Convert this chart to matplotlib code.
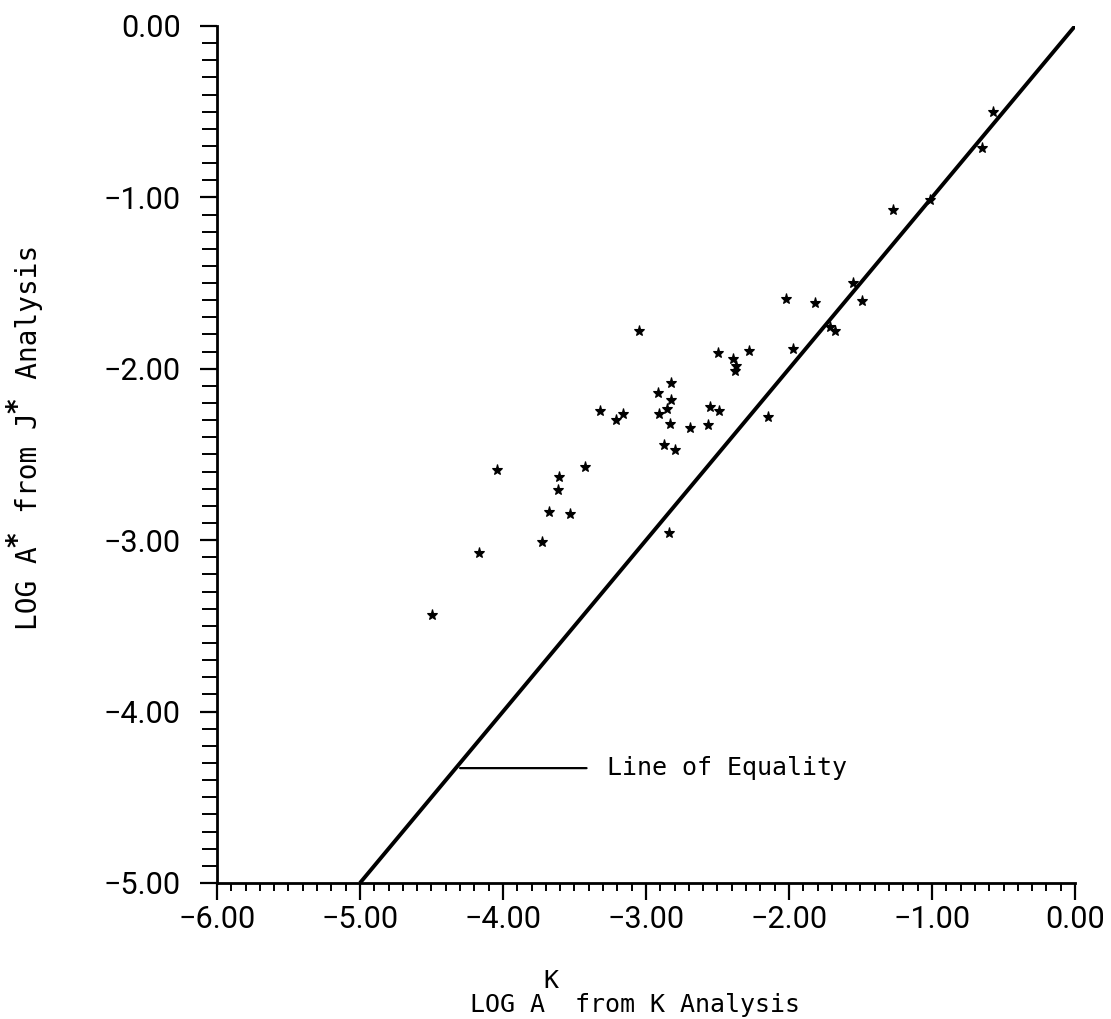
import matplotlib
matplotlib.use('Agg')
import matplotlib.pyplot as plt
from matplotlib.ticker import MultipleLocator, FuncFormatter

# Data
log_ak = [-0.573, -0.650, -1.014, -1.273, -1.552, -1.490, -2.021, -1.818,
          -1.713, -1.678, -1.972, -2.280, -2.497, -2.392, -2.371, -2.378,
          -2.825, -2.916, -2.825, -2.853, -2.909, -2.552, -2.490, -2.832,
          -2.692, -2.566, -2.147, -2.874, -2.797, -3.322, -3.161, -3.210,
          -3.049, -4.042, -3.427, -3.608, -3.615, -3.678, -3.531, -3.727,
          -4.168, -4.497, -2.839]
log_aj = [-0.502, -0.712, -1.015, -1.074, -1.499, -1.604, -1.593, -1.616,
          -1.756, -1.779, -1.884, -1.896, -1.908, -1.943, -1.984, -2.013,
          -2.083, -2.141, -2.182, -2.235, -2.264, -2.223, -2.246, -2.322,
          -2.345, -2.328, -2.281, -2.445, -2.474, -2.246, -2.264, -2.299,
          -1.779, -2.590, -2.573, -2.631, -2.707, -2.835, -2.847, -3.010,
          -3.075, -3.436, -2.958]

equality = [-5.0, 0.0]
annot_point = -4.30
annot_text_x = -3.27
annot_y = -4.33
annot_label = "Line of Equality"

x_ticks = [-6, -5, -4, -3, -2, -1, 0]
y_ticks = [-5, -4, -3, -2, -1, 0]

xlabel_text = "LOG A  from K Analysis"
xlabel_sup = "K"
xlabel_sup_index = 5
ylabel_text = "LOG A  from J  Analysis"
ylabel_sup = "*"
ylabel_sup_index = [5, 13]

mono = 'DejaVu Sans Mono'

fig = plt.figure(figsize=(11.11, 10.19), dpi=100)
ax = fig.add_axes([0.1953, 0.1335, 0.7723, 0.8410])

ax.plot(equality, equality, color='black', lw=2.8, solid_capstyle='butt')
ax.plot(log_ak, log_aj, linestyle='none', marker='*', color='black',
        markersize=8, markeredgewidth=0.8)

ax.annotate(annot_label, xy=(annot_point, annot_y), xytext=(annot_text_x, annot_y),
            ha='left', va='center', fontsize=18, family=mono,
            arrowprops=dict(arrowstyle='-', color='black', lw=1.6,
                            shrinkA=13, shrinkB=0, relpos=(0, 0.5)))

ax.set_xlim(-6, 0)
ax.set_ylim(-5, 0)
ax.set_xticks(x_ticks)
ax.set_yticks(y_ticks)
ax.xaxis.set_minor_locator(MultipleLocator(0.1))
ax.yaxis.set_minor_locator(MultipleLocator(0.1))
fmt = FuncFormatter(lambda v, p: f'{v:.2f}'.replace('-', '\u2212'))
ax.xaxis.set_major_formatter(fmt)
ax.yaxis.set_major_formatter(fmt)

for s in ['top', 'right']:
    ax.spines[s].set_visible(False)
for s in ['left', 'bottom']:
    ax.spines[s].set_linewidth(2.0)

tick_font = ['Roboto', 'DejaVu Sans']
ax.tick_params(axis='x', which='major', direction='out', length=12, width=1.6, pad=4)
ax.tick_params(axis='x', which='minor', direction='out', length=6, width=1.4)
ax.tick_params(axis='y', which='major', direction='out', length=12, width=1.6, pad=14)
ax.tick_params(axis='y', which='minor', direction='out', length=11, width=1.4)
for lab in ax.get_xticklabels() + ax.get_yticklabels():
    lab.set_family(tick_font)
    lab.set_fontsize(22)

xl = ax.set_xlabel(xlabel_text, family=mono, fontsize=18)
ax.xaxis.set_label_coords(0.487, -0.128)
yl = ax.set_ylabel(ylabel_text, family=mono, fontsize=20)
ax.yaxis.set_label_coords(-0.203, 0.52)

# raised full-size superscripts, positioned relative to the label text boxes
nx = len(xlabel_text)
ax.annotate(xlabel_sup, xy=((xlabel_sup_index + 0.4) / nx, 0.97), xycoords=xl,
            ha='center', va='bottom', family=mono, fontsize=18)
ny = len(ylabel_text)
for i in ylabel_sup_index:
    ax.annotate(ylabel_sup, xy=(1.0, (i + 0.45) / ny), xycoords=yl,
                xytext=(-12.5, 0), textcoords='offset points',
                ha='center', va='baseline', rotation=90, rotation_mode='anchor',
                family=mono, fontsize=20, fontweight='bold')

fig.savefig('out.png', dpi=100)
